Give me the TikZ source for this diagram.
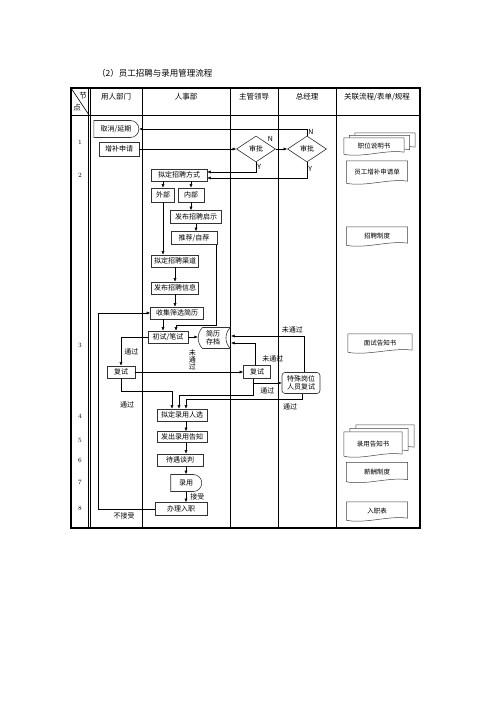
\documentclass[tikz,border=0pt]{standalone}
\usepackage{fontspec}
\newfontfamily\cjk{Noto Sans CJK SC}
\usetikzlibrary{shapes.geometric,shapes.misc,arrows.meta,backgrounds}

% contorno documento (nodo, dx, dy)
\newcommand\docoutline[3]{%
  \draw[line width=0.5pt, draw=black!75, fill=white]
    ([shift={(#2,#3)}]#1.north west) -- ([shift={(#2,#3)}]#1.north east)
    -- ([shift={(#2,#3-2)}]#1.south east)
    .. controls +(-18pt,3pt) and +(18pt,-4pt) .. ([shift={(#2,#3)}]#1.south west)
    -- cycle;}

\begin{document}
\begin{tikzpicture}[
  x=1pt, y=-1pt,
  every node/.style={font=\cjk\fontsize{7}{8}\selectfont, inner sep=1pt},
  box/.style={draw=black!80, line width=0.6pt, minimum height=12pt},
  delaybox/.style={box, rounded rectangle, rounded rectangle left arc=none},
  check/.style={box, diamond, aspect=1.5, minimum width=39pt, minimum height=26pt, inner sep=0pt},
  store/.style={box, rounded rectangle, rounded rectangle right arc=concave,
                rounded rectangle arc length=90, align=center},
  doc/.style={minimum width=61pt, minimum height=18pt, font=\cjk\fontsize{6.5}{8}\selectfont},
  lbl/.style={font=\cjk\fontsize{7}{8}\selectfont, inner sep=1pt},
  head/.style={font=\cjk\fontsize{7.5}{9}\selectfont},
  num/.style={font=\fontsize{6.5}{8}\selectfont},
  arr/.style={-{Latex[length=3.5pt,width=3pt]}, line width=0.5pt}
]
\useasboundingbox (0,0) rectangle (500,707);

% Titolo
\node[anchor=west, font=\cjk\fontsize{8.5}{10}\selectfont] (title) at (96,73) {（2）员工招聘与录用管理流程};

% ====================== TABELLA ======================
\draw[line width=1.2pt] (71,88) rectangle (420,528);
\draw[line width=1pt] (71,115) -- (420,115);
\draw[line width=0.6pt] (88.5,88) -- (88.5,528) (90.5,88) -- (90.5,528);
\foreach \x in {142,230,278,336}
  \draw[line width=0.6pt] (\x,88) -- (\x,528);
\draw[line width=0.6pt] (71,88) -- (89,115);

\node[head] (hA) at (83,96) {节};
\node[head] (hB) at (77,108) {点};
\node[head] (hUser) at (116,97) {用人部门};
\node[head] (hHR) at (186,97) {人事部};
\node[head] (hLead) at (254,97) {主管领导};
\node[head] (hGM) at (307,97) {总经理};
\node[head] (hDoc) at (377,97) {关联流程/表单/规程};

\foreach \n/\y in {1/142, 2/175, 3/345, 4/416, 5/440, 6/460, 7/482, 8/508}
  \node[num] (n\n) at (80,\y) {\n};

% ====================== USER / HR ======================
\node[delaybox, minimum width=47pt, minimum height=17pt] (cancel) at (116,129) {取消/延期};
\node[box, minimum width=40pt, minimum height=14pt] (apply) at (119,149) {增补申请};

\node[box, minimum width=56pt] (mode) at (179,175) {拟定招聘方式};
\node[box, minimum width=23pt, minimum height=14pt] (ext) at (163,195) {外部};
\node[box, minimum width=26pt, minimum height=14pt] (int) at (191,195) {内部};
\node[box, minimum width=51pt, minimum height=13pt] (notice) at (196,217) {发布招聘启示};
\node[box, minimum width=46pt, minimum height=13pt] (recom) at (194,238) {推荐/自荐};
\node[box, minimum width=47pt] (channel) at (175,261) {拟定招聘渠道};
\node[box, minimum width=47pt] (info) at (175,288) {发布招聘信息};
\node[box, minimum width=53pt] (collect) at (177,313) {收集筛选简历};
\node[box, minimum width=40pt] (first) at (168,337) {初试/笔试};
\node[store, minimum width=30pt, minimum height=21pt] (archive) at (213,338) {简历\\存档};
\node[box, minimum width=28pt] (reA) at (121,372) {复试};
\node[box, minimum width=27pt, minimum height=13pt] (reB) at (257,372) {复试};
\node[box, rounded corners=3pt, minimum width=38pt, minimum height=21pt, align=center]
  (special) at (301,383) {特殊岗位\\人员复试};
\node[box, minimum width=50pt] (pick) at (182,415) {拟定录用人选};
\node[box, minimum width=50pt, minimum height=11pt] (offer) at (182,437) {发出录用告知};
\node[box, minimum width=46pt] (talk) at (180,460) {待遇谈判};
\node[delaybox, minimum width=33pt, minimum height=17pt] (hire) at (186,483) {录用};
\node[box, minimum width=52pt, minimum height=13pt] (onboard) at (181,509) {办理入职};

% ====================== APPROVAZIONI ======================
\node[check, label={[lbl]30:N}] (dia1) at (256,149) {审批};
\node[check] (dia2) at (307,149) {审批};

% ====================== DOCUMENTI ======================
\node[doc, minimum width=60pt, minimum height=16pt] (jobdoc) at (374,146) {职位说明书};
\node[doc, minimum height=22pt] (formdoc) at (377,172) {员工增补申请单};
\node[doc] (rule) at (377,236) {招聘制度};
\node[doc, minimum width=64pt] (iview) at (380,343) {面试告知书};
\node[doc, minimum width=58pt, minimum height=24pt] (offerdoc) at (373,444) {录用告知书};
\node[doc, minimum height=19pt] (pay) at (377,472) {薪酬制度};
\node[doc] (entry) at (377,511) {入职表};

\begin{scope}[on background layer]
  \docoutline{jobdoc}{11}{-5}
  \docoutline{jobdoc}{5.5}{-2.5}
  \docoutline{offerdoc}{12}{-7}
  \docoutline{offerdoc}{6}{-3.5}
  \foreach \d in {jobdoc,formdoc,rule,iview,offerdoc,pay,entry}
    {\docoutline{\d}{0}{0}}
\end{scope}

% ====================== CONNETTORI ======================
\draw[arr] (apply.east) -- (dia1.west);
\draw[arr] (dia1.east) -- (dia2.west);
\draw[arr] (dia2.north) |- node[lbl, pos=0.25, right]{N} (cancel.east);
\draw[arr] (dia1.south) |- node[lbl, pos=0.25, right]{Y} ([yshift=3pt]mode.east);
\draw[arr] (dia2.south) |- node[lbl, pos=0.2, right]{Y} ([yshift=-3pt]mode.east);

\draw[arr] (ext.north |- mode.south) -- (ext.north);
\draw[arr] (int.north |- mode.south) -- (int.north);
\draw[arr] (int.south) -- (int.south |- notice.north);
\draw[arr] (notice.south) -- (notice.south |- recom.north);
\draw[arr] (ext.south) -- (ext.south |- channel.north);
\draw[arr] (channel.south) -- (info.north);
\draw[arr] (info.south) -- (info.south |- collect.north);

\coordinate (recJ) at (176,325);
\coordinate (firstIn) at ([xshift=-5pt]first.north);
\draw[arr] ([xshift=-1.5pt]recom.south east) |- (recJ) -- (recJ |- first.north);
\draw[arr] (firstIn |- collect.south) -- (firstIn);
\draw[arr] (first.east) -- (first.east -| archive.west);

\draw[arr] (first.west) -| node[lbl, pos=0.75, right=2pt]{通过} (reA.north);
\draw[arr] (reA.east) -- node[lbl, pos=0.53, above=1pt, align=center,
  font=\cjk\fontsize{7}{7}\selectfont]{未\\通\\过} (reB.west);
\draw[arr] ([xshift=-2pt]reB.north) |- node[lbl, pos=0.15, right=6pt]{未通过} ([yshift=-5pt]archive.east);
\draw[arr] ([xshift=-4pt]reB.south) |- (special.west);
\draw[arr] ([xshift=3pt]special.north) |- node[lbl, pos=0.58, above=2pt]{未通过} ([yshift=2pt]archive.east);

\draw[arr] (reA.south) -- ++(0,-13pt) node[lbl, below=9pt, xshift=6pt]{通过} -| ([xshift=-10pt]pick.north);
\draw[arr] ([xshift=-4pt]reB.south) -- node[lbl, pos=0.75, right=6pt]{通过} ++(0,-16pt) -| ([xshift=-3pt]pick.north);
\draw[arr] ([xshift=1pt]special.south) -- ++(0,-5.5pt) node[lbl, below=3pt, xshift=-12pt]{通过} -| ([xshift=4pt]pick.north);

\foreach \a/\b in {pick/offer, offer/talk, talk/hire}
  \draw[arr] (\a.south -| hire.north) -- (\b.north -| hire.north);
\draw[arr] (hire.south) -- node[lbl, right=3pt]{接受} (hire.south |- onboard.north);

\coordinate (backL) at (98,313);
\draw[arr] (onboard.west) -| node[lbl, pos=0.27, below=2pt]{不接受} (backL) -- (collect.west);

\end{tikzpicture}
\end{document}
